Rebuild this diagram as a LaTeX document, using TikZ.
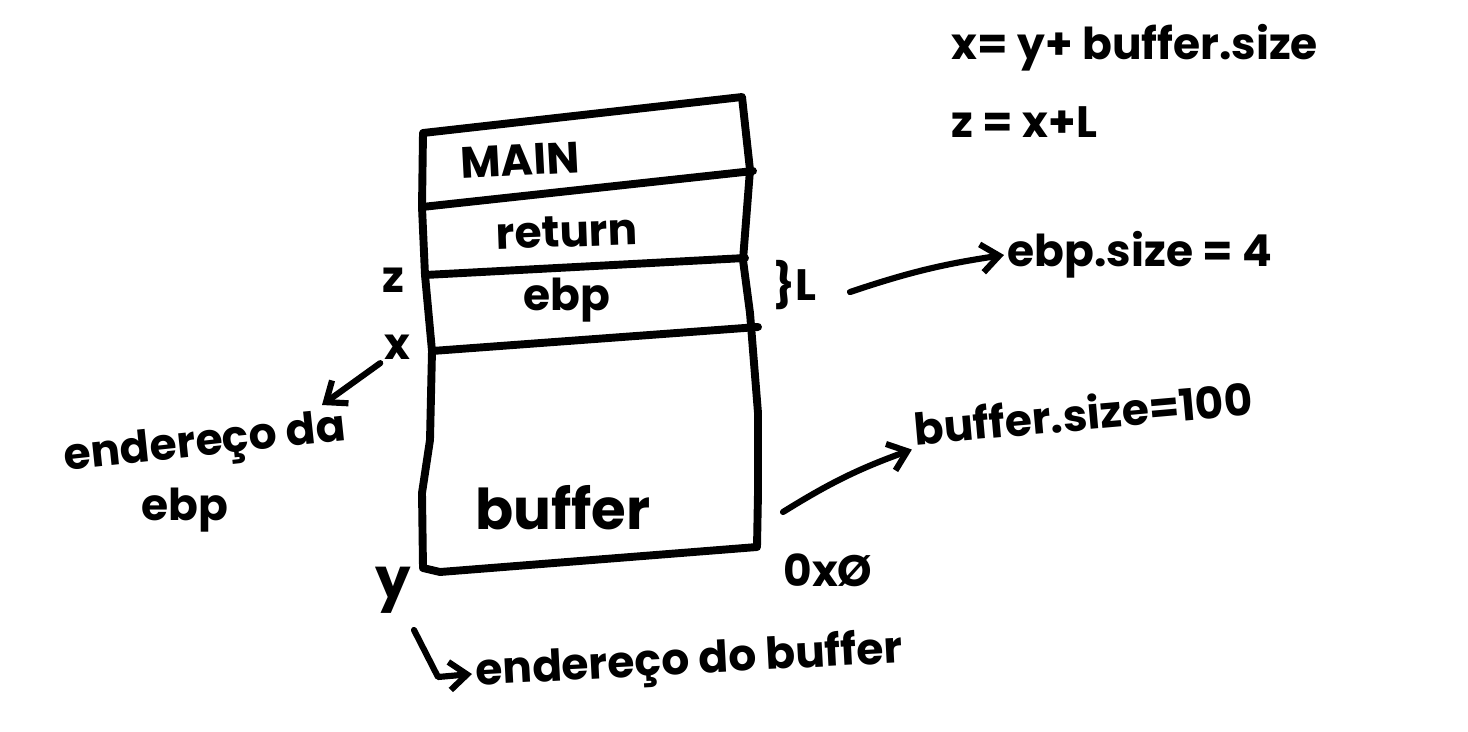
\documentclass[tikz,border=0pt]{standalone}
\usepackage{fontspec}
\setmainfont{Poppins}
\usetikzlibrary{arrows.meta}

\tikzset{
  stroke/.style={line width=4.5pt, line cap=round, line join=round},
  hand/.style={font=\fontsize{25}{30}\selectfont\bfseries, inner sep=2pt},
  bighand/.style={font=\fontsize{32}{36}\selectfont\bfseries, inner sep=2pt},
  arrow/.style={line width=3.5pt, line cap=round, line join=round,
    -{Straight Barb[length=10pt,width=16pt,line width=3.5pt]}},
}

\begin{document}
\begin{tikzpicture}[x=0.02cm,y=-0.02cm]
  \useasboundingbox (0,0) rectangle (1468,731);

  % stack frame
  \draw[stroke] (423,133) -- (742,97) -- (750,170) -- (743,260) -- (750,313)
     -- (758,413) -- (758,493) -- (757,547) -- (440,572) -- (423,568)
     -- (422,493) -- (430,440) -- (432,351) -- (425,275) -- (422,207) -- cycle;
  \draw[stroke] (422,207) -- (753,171);
  \draw[stroke] (425,275) -- (745,258);
  \draw[stroke] (432,351) -- (758,327);

  \draw (520,160) node[hand, rotate=3] (mainlbl) {MAIN};
  \draw (567,232) node[hand, rotate=2] (retlbl) {return};
  \draw (567,300) node[hand] (ebplbl) {ebp};
  \draw (563,508) node[bighand] (buflbl) {buffer};

  \draw (393,280) node[hand] (zlbl) {z};
  \draw (397,347) node[hand] (xlbl) {x};
  \draw (393,590) node[bighand] (ylbl) {y};
  \draw (795,285) node[hand] (Llbl) {\}L};
  \draw (828,570) node[hand] (zerolbl) {0xØ};

  % notes
  \draw (948,48) node[hand, anchor=west] (xeq) {x= y+ buffer.size};
  \draw (948,122) node[hand, anchor=west] (zeq) {z = x+L};
  \draw (1140,255) node[hand] (ebpsize) {ebp.size = 4};
  \draw (910,428) node[hand, anchor=west, rotate=5] (bufsize) {buffer.size=100};
  \draw (205,445) node[hand, rotate=6] (ebpaddr) {endereço da};
  \draw (185,510) node[hand] (ebpword) {ebp};
  \draw (472,674) node[hand, anchor=west, rotate=3] (bufaddr) {endereço do buffer};

  \coordinate (ebparr) at (850,292);
  \coordinate (bufarr) at (783,512);
  \coordinate (xend) at (322,405);
  \coordinate (ystart) at (414,630);
  \coordinate (ybend) at (438,677);

  \draw[arrow] (ebparr) to[bend left=5] (ebpsize.west);
  \draw[arrow] (bufarr) to[bend left=6] (bufsize.south west);
  \draw[arrow] (xlbl.south west) -- (xend);
  \draw[arrow] (ystart) -- (ybend) -- (bufaddr.west);
\end{tikzpicture}
\end{document}
